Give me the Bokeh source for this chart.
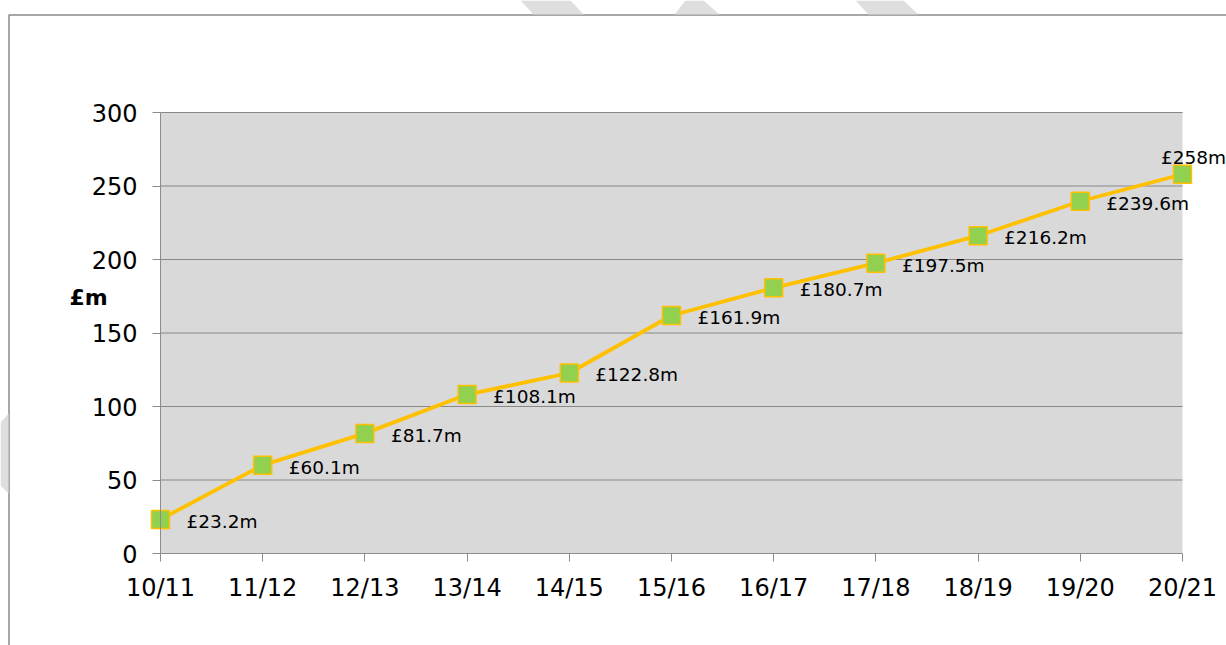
from bokeh.plotting import figure
from bokeh.models import (ColumnDataSource, FixedTicker, Label, BoxAnnotation, LabelSet,
                          LinearAxis)
from bokeh.embed import file_html
from bokeh.resources import INLINE
from bokeh.core.properties import value

years = ["10/11", "11/12", "12/13", "13/14", "14/15", "15/16", "16/17", "17/18", "18/19", "19/20", "20/21"]
amounts = [23.2, 60.1, 81.7, 108.1, 122.8, 161.9, 180.7, 197.5, 216.2, 239.6, 258]
amount_labels = ["£23.2m", "£60.1m", "£81.7m", "£108.1m", "£122.8m", "£161.9m", "£180.7m",
                 "£197.5m", "£216.2m", "£239.6m", "£258m"]
y_ticks = [0, 50, 100, 150, 200, 250, 300]

FONT = "DejaVu Sans"
xs = list(range(len(years)))
n = len(years) - 1
Y_MAX = 300

W, H = 1226, 645
# plot area in canvas pixels
PL, PR, PT, PB = 160, 1182, 112, 553
sx = (PR - PL) / n
sy = (PB - PT) / Y_MAX
x_range = (-PL / sx, n + (W - PR) / sx)
y_range = (-(H - PB) / sy, Y_MAX + PT / sy)


def dx(px):
    return (px - PL) / sx


def dy(py):
    return (PB - py) / sy


p = figure(width=W, height=H, output_backend="svg", toolbar_location=None,
           x_range=x_range, y_range=y_range, min_border=0,
           x_axis_location=None, y_axis_location=None)
p.background_fill_color = "white"
p.border_fill_color = "white"
p.outline_line_color = None
p.grid.visible = False

# faint background watermark stripes peeking out around the chart border (decoration)
wm_x = [[dx(520), dx(570), dx(583), dx(533)],
        [dx(685), dx(703), dx(719), dx(674)],
        [dx(855), dx(903), dx(918), dx(868)],
        [dx(0), dx(8), dx(8), dx(0)]]
wm_y = [[dy(0), dy(0), dy(14), dy(14)],
        [dy(0), dy(0), dy(14), dy(14)],
        [dy(0), dy(0), dy(14), dy(14)],
        [dy(422), dy(413), dy(493), dy(485)]]
p.patches(wm_x, wm_y, fill_color="#DEDEDE", line_color=None)

# outer chart border (left/top edges visible)
p.add_layout(BoxAnnotation(left=dx(8.5), right=n + 2, top=dy(14.5),
                           bottom=y_range[0] - 20, fill_alpha=0, line_color="#8A8A8A",
                           line_alpha=1, line_width=1.5, level="underlay"))
# plot area
p.add_layout(BoxAnnotation(left=0, right=n, bottom=0, top=Y_MAX, fill_color="#D9D9D9",
                           fill_alpha=1, line_color=None, level="underlay"))

# horizontal gridlines
gl = [t for t in y_ticks if t > 0]
p.segment(x0=[0] * len(gl), x1=[n] * len(gl), y0=gl, y1=gl, line_color="#888888", line_width=1)

yax = LinearAxis(fixed_location=0, bounds=(0, Y_MAX), ticker=FixedTicker(ticks=y_ticks))
xax = LinearAxis(fixed_location=0, bounds=(0, n), ticker=FixedTicker(ticks=xs),
                 major_label_overrides={i: y for i, y in enumerate(years)})
for ax in (xax, yax):
    ax.axis_line_color = "#8C8C8C"
    ax.major_tick_line_color = "#8C8C8C"
    ax.major_tick_out = 8
    ax.major_tick_in = 0
    ax.minor_tick_line_color = None
    ax.major_label_text_font = FONT
    ax.major_label_text_font_size = "24px"
    ax.major_label_text_color = "black"
yax.major_label_standoff = 15
xax.major_label_standoff = 12
p.add_layout(yax, "left")
p.add_layout(xax, "below")

src = ColumnDataSource(dict(x=xs, y=amounts, lab=amount_labels))
p.line("x", "y", source=src, line_color="#FFC000", line_width=3.8)
p.scatter("x", "y", source=src, marker="square", size=18, fill_color="#92D050",
          line_color="#FFC000", line_width=1.5)

main = ColumnDataSource(dict(x=xs[:-1], y=amounts[:-1], lab=amount_labels[:-1]))
p.add_layout(LabelSet(x="x", y="y", text="lab", source=main, x_offset=26, y_offset=-2,
                      text_font=value(FONT), text_font_size="18.5px", text_color="black",
                      text_baseline="middle", text_align="left"))
last = ColumnDataSource(dict(x=xs[-1:], y=amounts[-1:], lab=amount_labels[-1:]))
p.add_layout(LabelSet(x="x", y="y", text="lab", source=last, x_offset=11, y_offset=17,
                      text_font=value(FONT), text_font_size="18.5px", text_color="black",
                      text_baseline="middle", text_align="center"))

p.add_layout(Label(x=dx(88), y=dy(297), text="£m", text_font=FONT,
                   text_font_size="22px", text_font_style="bold", text_color="black",
                   text_baseline="middle", text_align="center"))

open("out.html", "w").write(file_html(p, INLINE))
